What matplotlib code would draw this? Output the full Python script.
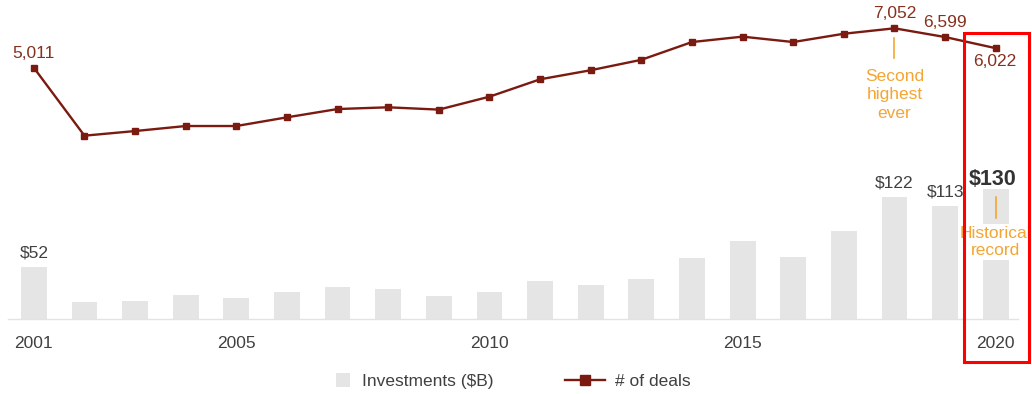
import matplotlib
matplotlib.use('Agg')
import matplotlib.pyplot as plt
from matplotlib.patches import Patch, Rectangle
from matplotlib.lines import Line2D
from matplotlib.transforms import Bbox

plt.rcParams['font.family'] = ['Liberation Sans', 'DejaVu Sans']

# investments ($B) and number of deals per year
years = list(range(2001, 2021))
investments = [52, 17, 18, 24, 21, 27, 32, 30, 23, 27,
               38, 34, 40, 61, 78, 62, 88, 122, 113, 130]
deals = [5011, 1490, 1730, 1990, 1990, 2440, 2870, 2960, 2840, 3510,
         4410, 4880, 5420, 6340, 6620, 6340, 6770, 7052, 6599, 6022]
tick_years = [2001, 2005, 2010, 2015, 2020]

BAR = '#E5E5E5'
LINE = '#7A1A10'
LBL_LINE = '#86301F'
TXT = '#404040'
ORANGE = '#F3A633'
FS = 12.5

W, H = 1032, 394
fig = plt.figure(figsize=(W / 100, H / 100), dpi=100)
fig.patch.set_facecolor('white')

ax = fig.add_axes([8 / W, 75 / H, (1018 - 8) / W, 309 / H])
ax.bar(years, investments, width=0.51, color=BAR, zorder=1)
ax.set_xlim(2000.49, 2020.44)
ax.set_ylim(0, 309)
ax.set_xticks(tick_years)
ax.set_xticklabels([str(y) for y in tick_years], fontsize=FS, color=TXT)
ax.tick_params(axis='x', length=0, pad=12)
ax.set_yticks([])
for s in ['top', 'right', 'left']:
    ax.spines[s].set_visible(False)
ax.spines['bottom'].set_color('#E3E3E3')
ax.spines['bottom'].set_linewidth(1)

# bar value labels
for yr in [2001, 2018, 2019]:
    v = investments[years.index(yr)]
    t = ax.annotate(f'${v}', (yr, v), xytext=(0, 4.5), textcoords='offset points',
                    ha='center', va='bottom', fontsize=FS, color=TXT)
    if yr == 2019:
        # cut off at the edge of the highlight box
        t.set_clip_box(Bbox.from_extents(0, 0, 963, H))
ax.annotate(f'${investments[-1]}', (2020, investments[-1]), xytext=(-2, -0.5),
            textcoords='offset points', ha='center', va='bottom',
            fontsize=15.5, fontweight='bold', color='#333333')

# "Historical record" callout on the 2020 bar
ax.plot([2020, 2020], [101, 122], color=ORANGE, lw=1.2, zorder=3)
ax.text(2020, 77, 'Historical\nrecord', ha='center', va='center', fontsize=FS,
        color=ORANGE, linespacing=1.1, zorder=3,
        bbox=dict(fc='white', ec='none', pad=1.5))

# deals line on a twin axis
ax2 = ax.twinx()
ax2.plot(years, deals, color=LINE, lw=1.7, marker='s', markersize=5,
         zorder=4, clip_on=False)
ax2.set_ylim(-8006, 8000)
ax2.set_yticks([])
for s in ax2.spines.values():
    s.set_visible(False)

for yr in [2001, 2018, 2019]:
    v = deals[years.index(yr)]
    ax2.annotate(f'{v:,}', (yr, v), xytext=(0, 5), textcoords='offset points',
                 ha='center', va='bottom', fontsize=FS, color=LBL_LINE)
ax2.annotate(f'{deals[-1]:,}', (2020, deals[-1]), xytext=(-1, -4),
             textcoords='offset points', ha='center', va='top',
             fontsize=FS, color=LBL_LINE)

# "Second highest ever" callout under the 2018 point
ax2.plot([2018, 2018], [6540, 5500], color=ORANGE, lw=1.2)
ax2.text(2018, 3600, 'Second\nhighest\never', ha='center', va='center',
         fontsize=FS, color=ORANGE, linespacing=1.3)

# highlight box around 2020
fig.add_artist(Rectangle((964 / W, (H - 362) / H), (1029 - 964) / W, (362 - 33) / H,
                         transform=fig.transFigure, fill=False, ec='#FF0000', lw=2.2,
                         zorder=10))

# legend
fig.legend(handles=[Patch(facecolor=BAR, edgecolor='none')], labels=['Investments ($B)'],
           loc='center left', bbox_to_anchor=(336 / W, (H - 381) / H), frameon=False,
           fontsize=FS, labelcolor=TXT, handlelength=0.82, handleheight=0.82,
           handletextpad=0.68, borderpad=0, borderaxespad=0)
fig.legend(handles=[Line2D([], [], color=LINE, lw=1.7, marker='s', markersize=7)],
           labels=['# of deals'], loc='center left',
           bbox_to_anchor=(565 / W, (H - 381) / H), frameon=False, fontsize=FS,
           labelcolor=TXT, handlelength=2.3, handletextpad=0.6, borderpad=0,
           borderaxespad=0)

fig.savefig('out.png', dpi=100)
